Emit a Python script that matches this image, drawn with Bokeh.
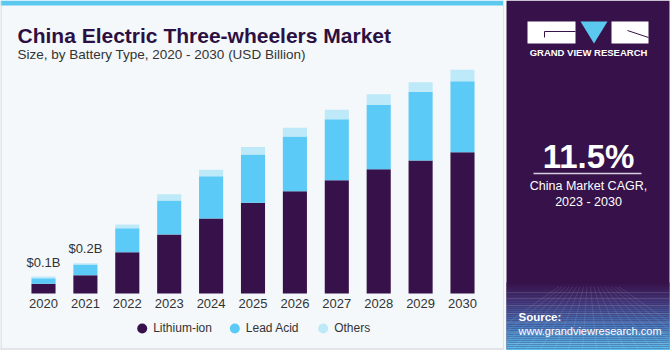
from bokeh.plotting import figure
from bokeh.models import Range1d, ColumnDataSource
from bokeh.embed import file_html
from bokeh.resources import INLINE
from bokeh.core.properties import value

# ---------------- data ----------------
years = ["2020", "2021", "2022", "2023", "2024", "2025", "2026", "2027", "2028", "2029", "2030"]
lithium_ion = [0.065, 0.122, 0.275, 0.393, 0.500, 0.605, 0.682, 0.755, 0.829, 0.887, 0.942]
lead_acid = [0.037, 0.071, 0.160, 0.227, 0.282, 0.322, 0.365, 0.407, 0.427, 0.458, 0.473]
others = [0.011, 0.009, 0.025, 0.042, 0.043, 0.049, 0.058, 0.063, 0.073, 0.064, 0.076]
series_names = ["Lithium-ion", "Lead Acid", "Others"]
value_labels = ["$0.1B", "$0.2B"]   # shown above the first two bars
cagr_value = "11.5%"
cagr_text = ["China Market CAGR,", "2023 - 2030"]

# ---------------- styling ----------------
W, H = 670, 350
FONT = "Liberation Sans"
BG = "#f4f8fb"
PURPLE = "#37124a"
C_LI = "#371149"
C_LA = "#5ccaf6"
C_OT = "#bee9f9"
TXT = "#333333"
TITLE_C = "#2d1042"
colors = [C_LI, C_LA, C_OT]


def T(t):
    """top-based pixel row -> bottom-based canvas coordinate"""
    return H - t


p = figure(width=W, height=H, x_range=Range1d(0, W), y_range=Range1d(0, H),
           x_axis_type=None, y_axis_type=None, toolbar_location=None,
           output_backend="svg", min_border=0, outline_line_color=None,
           background_fill_color=BG, border_fill_color=BG)
for g in p.grid:
    g.visible = False

# data ranges for the bars: year index and USD billion
p.extra_x_ranges = {"yr": Range1d(-43 / 41.9, (W - 43) / 41.9)}
p.extra_y_ranges = {"val": Range1d(-57 / 150, (H - 57) / 150)}

# ---------------- panel decorations ----------------
p.quad(left=0, right=503, top=H, bottom=T(5), color="#5bc8f0", line_color=None)
p.line([0.5, 0.5], [T(0), T(349)], line_color="#cfd3d6", line_width=1)
p.line([0, 503], [T(348.5), T(348.5)], line_color="#cfd3d6", line_width=1)
p.line([503, 503], [T(0), T(349)], line_color="#dde2e5", line_width=1)

# right panel
p.quad(left=506, right=669, top=H, bottom=T(349), color=PURPLE, line_color=None)
# bottom gradient of the right panel
stops = [(282, (0x37, 0x12, 0x4a)), (300, (0x44, 0x3a, 0x7c)), (325, (0x48, 0x7c, 0xbe)), (349, (0x5c, 0xbf, 0xec))]
t = 282
while t < 349:
    for (a, ca), (b, cb) in zip(stops[:-1], stops[1:]):
        if a <= t < b:
            f = (t - a) / (b - a)
            c = tuple(int(ca[i] + (cb[i] - ca[i]) * f) for i in range(3))
            break
    p.quad(left=506, right=669, top=T(t), bottom=T(t + 2), color="#%02x%02x%02x" % c, line_color=None)
    t += 2
# faint grid texture
for yy in [292, 298, 305, 313, 322, 332, 343]:
    p.line([506, 669], [T(yy), T(yy)], line_color="white", line_alpha=0.12, line_width=1)
for xx in range(470, 720, 14):
    p.line([588 + (xx - 588) * 0.25, xx], [T(286), T(349)], line_color="white", line_alpha=0.10, line_width=1)

# logo
p.quad(left=527, right=575, top=T(21), bottom=T(43), color="white", line_color=None)
p.line([544, 575], [T(31), T(31)], line_color=PURPLE, line_width=1)
p.line([544, 544], [T(31), T(37)], line_color=PURPLE, line_width=1)
p.patch([580, 607, 593.5], [T(21), T(21), T(43)], color="#5bc8f0", line_color=None)
p.quad(left=611, right=648, top=T(21), bottom=T(43), color="white", line_color=None)
p.line([627, 648], [T(30), T(37)], line_color=PURPLE, line_width=1)
p.text(x=[588], y=[T(51.5)], text=["GRAND VIEW RESEARCH"], text_color="white",
       text_font=value(FONT), text_font_style="bold", text_font_size="9.5px",
       text_align="center", text_baseline="middle")

# CAGR
p.text(x=[588], y=[T(156)], text=[cagr_value], text_color="white",
       text_font=value(FONT), text_font_style="bold", text_font_size="33px",
       text_align="center", text_baseline="middle")
p.line([533, 641], [T(173), T(173)], line_color="#d8d0df", line_width=1.5)
p.text(x=[588, 588], y=[T(185), T(201)], text=cagr_text, text_color="white",
       text_font=value(FONT), text_font_size="12.5px",
       text_align="center", text_baseline="middle")

# source
p.text(x=[518], y=[T(316)], text=["Source:"], text_color="white",
       text_font=value(FONT), text_font_style="bold", text_font_size="11.5px",
       text_align="left", text_baseline="middle")
p.text(x=[518], y=[T(330)], text=["www.grandviewresearch.com"], text_color="white",
       text_font=value(FONT), text_font_size="11px",
       text_align="left", text_baseline="middle")

# titles
p.text(x=[17], y=[T(35)], text=["China Electric Three-wheelers Market"], text_color=TITLE_C,
       text_font=value(FONT), text_font_style="bold", text_font_size="21px",
       text_align="left", text_baseline="alphabetic")
p.text(x=[17], y=[T(54)], text=["Size, by Battery Type, 2020 - 2030 (USD Billion)"], text_color=TXT,
       text_font=value(FONT), text_font_size="13.5px",
       text_align="left", text_baseline="alphabetic")

# ---------------- bars ----------------
idx = list(range(len(years)))
totals = [a + b + c for a, b, c in zip(lithium_ion, lead_acid, others)]
src = ColumnDataSource(dict(idx=idx, years=years, li=lithium_ion, la=lead_acid, ot=others,
                            total=totals, zero=[0] * len(years)))
p.vbar_stack(["li", "la", "ot"], x="idx", width=0.575, color=colors, source=src,
             x_range_name="yr", y_range_name="val", line_color=None)

# year tick labels
p.text(x="idx", y="zero", text="years", source=src, x_range_name="yr", y_range_name="val",
       y_offset=10, text_color=TXT, text_font=value(FONT), text_font_size="13px",
       text_align="center", text_baseline="middle")

# value labels above first two bars
lab_src = ColumnDataSource(dict(idx=idx[:len(value_labels)], total=totals[:len(value_labels)], lab=value_labels))
p.text(x="idx", y="total", text="lab", source=lab_src, x_range_name="yr", y_range_name="val",
       y_offset=-14.5, text_color=TXT, text_font=value(FONT), text_font_size="13px",
       text_align="center", text_baseline="middle")

# legend
leg_x = [141.7, 234.3, 322.7]
p.scatter(x=leg_x, y=[T(328)] * 3, size=10, color=colors, marker="circle", line_color=None)
p.text(x=[x + 11 for x in leg_x], y=[T(327.5)] * 3, text=series_names, text_color=TXT,
       text_font=value(FONT), text_font_size="12px", text_align="left", text_baseline="middle")

open("out.html", "w").write(file_html(p, INLINE))
